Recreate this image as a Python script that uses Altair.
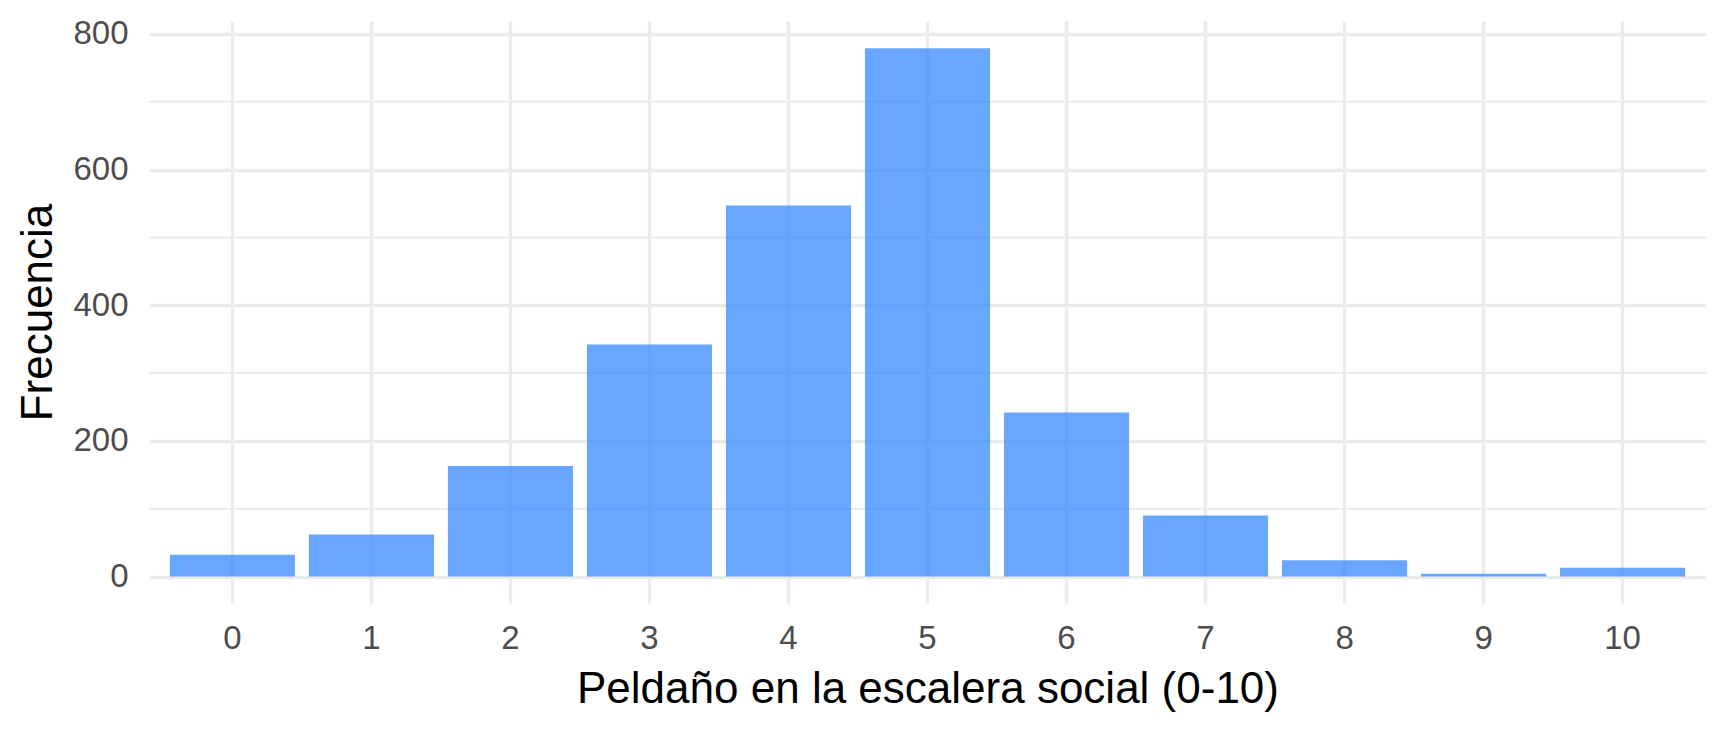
import altair as alt
import pandas as pd

peldanos = ["0", "1", "2", "3", "4", "5", "6", "7", "8", "9", "10"]
frecuencias = [32, 62, 163, 342, 547, 779, 242, 90, 24, 4, 13]
y_ticks = [0, 200, 400, 600, 800]
y_minor = [100, 300, 500, 700]

df = pd.DataFrame({"peldano": peldanos, "frecuencia": frecuencias})
df_minor = pd.DataFrame({"v": y_minor})

FONT = "Liberation Sans"
GRID = "#EBEBEB"

x_scale = alt.Scale(domain=peldanos, paddingInner=0.1, paddingOuter=0.15)
y_scale = alt.Scale(domain=[-39, 819], nice=False, zero=False)

minor = alt.Chart(df_minor).mark_rule(color=GRID, strokeWidth=2).encode(
    y=alt.Y("v:Q", scale=y_scale),
)

bars = alt.Chart(df).mark_bar(color="#2F84FF", opacity=0.72).encode(
    x=alt.X(
        "peldano:N",
        sort=peldanos,
        scale=x_scale,
        title="Peldaño en la escalera social (0-10)",
        axis=alt.Axis(
            labelAngle=0,
            grid=True,
            gridColor=GRID,
            gridWidth=3.3,
            bandPosition=0.5,
            domain=False,
            ticks=False,
            labelPadding=19,
            titlePadding=12,
        ),
    ),
    y=alt.Y(
        "frecuencia:Q",
        scale=y_scale,
        title="Frecuencia",
        axis=alt.Axis(
            values=y_ticks,
            grid=True,
            gridColor=GRID,
            gridWidth=3.3,
            domain=False,
            ticks=False,
            labelPadding=21,
            titlePadding=12,
        ),
    ),
    y2=alt.datum(0),
)

chart = (
    alt.layer(minor, bars)
    .properties(
        width=1557,
        height=582,
        padding={"left": 141, "top": 13, "right": 14, "bottom": 110},
        autosize=alt.AutoSizeParams(type="none"),
    )
    .configure_view(stroke=None)
    .configure_axis(
        labelFont=FONT,
        labelFontSize=33,
        labelColor="#4D4D4D",
        titleFont=FONT,
        titleFontSize=44,
        titleFontWeight="normal",
        titleColor="#000000",
    )
)

chart.save("out.html", embed_options={"renderer": "svg", "actions": False})
